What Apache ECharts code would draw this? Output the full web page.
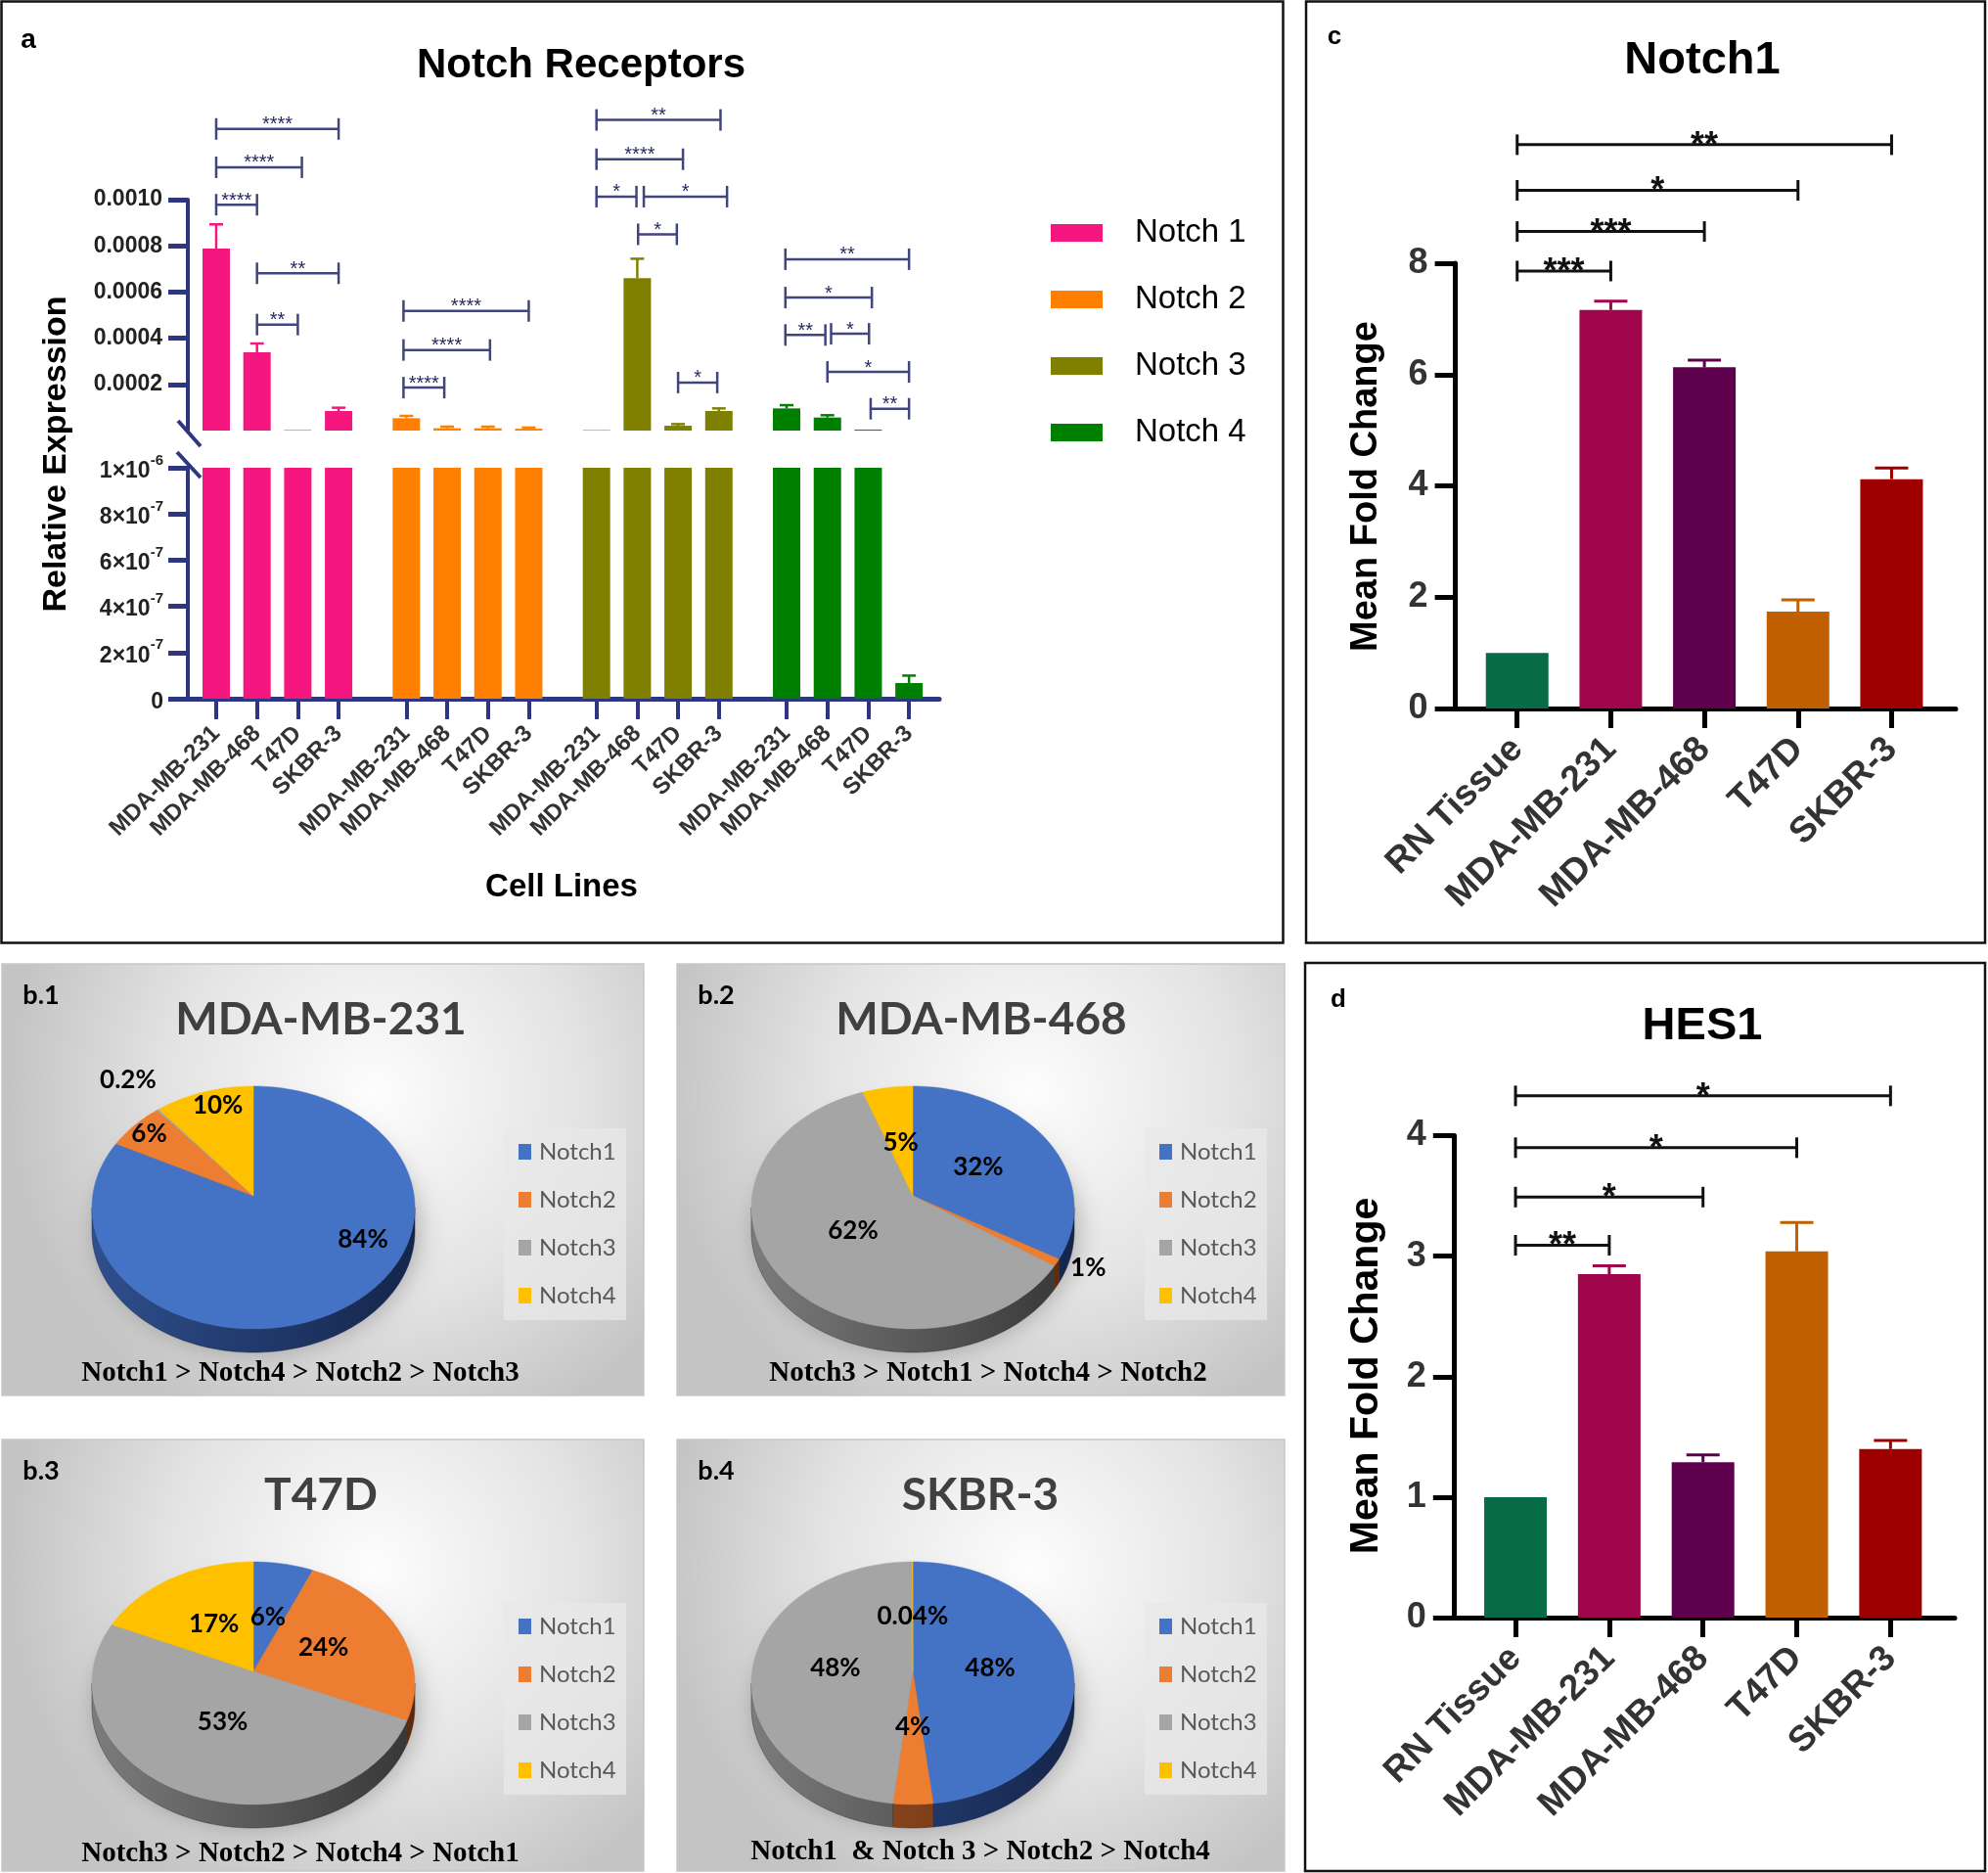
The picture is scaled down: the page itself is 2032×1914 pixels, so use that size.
<!DOCTYPE html>
<html>
<head>
<meta charset="utf-8">
<title>Notch receptors</title>
<script src="https://cdn.jsdelivr.net/npm/echarts@6.0.0/dist/echarts.min.js"></script>
<style>
html,body{margin:0;padding:0;background:#ffffff;}
#chart{width:2032px;height:1914px;}
</style>
</head>
<body>
<div id="chart"></div>
<script>
// ================= DATA =================
const cellLines = ['MDA-MB-231', 'MDA-MB-468', 'T47D', 'SKBR-3'];
const receptors = ['Notch 1', 'Notch 2', 'Notch 3', 'Notch 4'];

// panel a: relative expression (mean) per receptor across cell lines
const notch1Expr = [0.000788, 0.000339, 0.000002, 0.0000847];
const notch2Expr = [0.0000537, 0.0000100, 0.0000100, 0.0000080];
const notch3Expr = [0.000002, 0.000660, 0.0000210, 0.0000847];
const notch4Expr = [0.0000960, 0.0000565, 0.0000040, 0.000000068];
// panel a: SEM
const notch1Sem = [0.000105, 0.000038, 0, 0.0000142];
const notch2Sem = [0.0000099, 0.000007, 0.000007, 0.000005];
const notch3Sem = [0, 0.000084, 0.000007, 0.0000113];
const notch4Sem = [0.000014, 0.0000099, 0, 0.000000032];
// panel a: tick values
const upperTicks = [0.0002, 0.0004, 0.0006, 0.0008, 0.0010];
const lowerTicks = [0, 2e-7, 4e-7, 6e-7, 8e-7, 1e-6];
// panel a: significance brackets [receptor group, from bar, to bar, height, stars]
const notchBrackets = [
  [0, 0, 3, 0.001306, '****'],
  [0, 0, 2.1, 0.00114, '****'],
  [0, 0, 1, 0.000978, '****'],
  [0, 1, 3, 0.000681, '**'],
  [0, 1, 2, 0.000459, '**'],
  [1, -0.07, 3, 0.000518, '****'],
  [1, -0.07, 2.05, 0.000349, '****'],
  [1, -0.07, 0.93, 0.000186, '****'],
  [2, 0, 3.04, 0.001345, '**'],
  [2, 0, 2.12, 0.001175, '****'],
  [2, 0, 0.98, 0.001013, '*'],
  [2, 1.16, 3.2, 0.001013, '*'],
  [2, 1.02, 1.97, 0.00085, '*'],
  [2, 2, 2.96, 0.000208, '*'],
  [3, -0.03, 3, 0.000742, '**'],
  [3, -0.03, 2.09, 0.000576, '*'],
  [3, -0.03, 0.95, 0.000414, '**'],
  [3, 1.09, 2.02, 0.000419, '*'],
  [3, 1, 3, 0.000254, '*'],
  [3, 2.06, 3, 0.0000945, '**']
];

// panels c and d
const foldCats = ['RN Tissue', 'MDA-MB-231', 'MDA-MB-468', 'T47D', 'SKBR-3'];
const notch1Fold = [1.00, 7.16, 6.13, 1.74, 4.12];
const notch1FoldSem = [0, 0.16, 0.13, 0.21, 0.20];
const hes1Fold = [1.00, 2.85, 1.29, 3.04, 1.40];
const hes1FoldSem = [0, 0.07, 0.06, 0.24, 0.07];
const notch1Ticks = [0, 2, 4, 6, 8];
const hes1Ticks = [0, 1, 2, 3, 4];
const notch1Brackets = [[0, 1, 7.86, '***'], [0, 2, 8.57, '***'], [0, 3, 9.31, '*'], [0, 4, 10.13, '**']];
const hes1Brackets = [[0, 1, 3.09, '**'], [0, 2, 3.49, '*'], [0, 3, 3.90, '*'], [0, 4, 4.33, '*']];

// panel b: percentage share of receptors per cell line
const pieNames = ['Notch1', 'Notch2', 'Notch3', 'Notch4'];
const pieTitles = ['MDA-MB-231', 'MDA-MB-468', 'T47D', 'SKBR-3'];
const pieTags = ['b.1', 'b.2', 'b.3', 'b.4'];
const pie231 = [84, 6, 0.2, 10];
const pie468 = [32, 1, 62, 5];
const pieT47D = [6, 24, 53, 17];
const pieSKBR3 = [48, 4, 48, 0.04];
const pieRanks = ['Notch1 > Notch4 > Notch2 > Notch3', 'Notch3 > Notch1 > Notch4 > Notch2',
                  'Notch3 > Notch2 > Notch4 > Notch1', 'Notch1  & Notch 3 > Notch2 > Notch4'];

// ================= STYLE / LAYOUT =================
const FONT = "'Liberation Sans', Arial, Helvetica, sans-serif";
const SERIF = "'Liberation Serif', 'Times New Roman', serif";
const XL = "Lato, 'Open Sans', sans-serif";
const NAVY = '#2f3681';
const BR_NAVY = '#41457e';
const notchColors = ['#f5177f', '#ff8000', '#808000', '#008000'];
const foldColors = ['#076b45', '#a0064c', '#5e004c', '#c06000', '#9e0000'];
const pieColors = ['#4472c4', '#ed7d31', '#a5a5a5', '#ffc000'];
const pieSides = [['#2f4f8e', '#15254a'], ['#a95826', '#5a2a0e'], ['#7c7c7c', '#363636'], ['#b08400', '#6b5000']];

const GROUP_STRIDE = 4.66;
const pos = (g, i) => Math.round((g * GROUP_STRIDE + i) * 100) / 100;
const exprSets = [notch1Expr, notch2Expr, notch3Expr, notch4Expr];
const semSets = [notch1Sem, notch2Sem, notch3Sem, notch4Sem];
const tickPositions = [];
const posLabel = {};
receptors.forEach((r, g) => cellLines.forEach((c, i) => {
  const p = pos(g, i); tickPositions.push(p); posLabel[p.toFixed(2)] = c;
}));
const foldPos = foldCats.map((c, i) => i);

// ================= HELPERS =================
function errorSeries(xi, yi, items, capW, lw) {
  return {
    type: 'custom', xAxisIndex: xi, yAxisIndex: yi, clip: true, silent: true, z: 3,
    data: items,
    renderItem(params, api) {
      const x = api.value(0), m = api.value(1), h = api.value(2);
      if (!(h > m)) return null;
      const p = api.coord([x, m]), q = api.coord([x, h]);
      if (Math.abs(p[1] - q[1]) < 0.8) return null;
      const c = api.visual('color');
      return { type: 'group', children: [
        { type: 'line', shape: { x1: p[0], y1: p[1], x2: q[0], y2: q[1] }, style: { stroke: c, lineWidth: lw } },
        { type: 'line', shape: { x1: q[0] - capW / 2, y1: q[1], x2: q[0] + capW / 2, y2: q[1] }, style: { stroke: c, lineWidth: lw } }
      ] };
    }
  };
}

function bracketSeries(xi, yi, list, toX, opt) {
  return {
    type: 'custom', xAxisIndex: xi, yAxisIndex: yi, clip: false, silent: true, z: 4,
    data: list.map(b => [toX(b, 0), toX(b, 1), b[b.length - 2]]),
    renderItem(params, api) {
      const b = list[params.dataIndex];
      const p = api.coord([api.value(0), api.value(2)]);
      const q = api.coord([api.value(1), api.value(2)]);
      const t = opt.tick, st = { stroke: opt.color, lineWidth: opt.lw };
      return { type: 'group', children: [
        { type: 'line', shape: { x1: p[0], y1: p[1], x2: q[0], y2: q[1] }, style: st },
        { type: 'line', shape: { x1: p[0], y1: p[1] - t, x2: p[0], y2: p[1] + t }, style: st },
        { type: 'line', shape: { x1: q[0], y1: q[1] - t, x2: q[0], y2: q[1] + t }, style: st },
        { type: 'text', x: (p[0] + q[0]) / 2, y: p[1] + opt.labelDy,
          style: { text: b[b.length - 1], fill: opt.textColor, fontSize: opt.fontSize, fontWeight: opt.fontWeight,
                   fontFamily: FONT, align: 'center', verticalAlign: 'middle' } }
      ] };
    }
  };
}

function pieSeries(values, L, hints) {
  const total = values.reduce((s, v) => s + v, 0);
  const starts = [];
  let acc = 0;
  values.forEach(v => { starts.push(acc / total * 360); acc += v; });
  const P = (deg, dy) => {
    const t = deg * Math.PI / 180;
    return [L.cx + L.rx * Math.sin(t), L.cy + dy - L.ry * Math.cos(t)];
  };
  const arc = (a, b, dy) => {
    const pts = [];
    const n = Math.max(2, Math.ceil((b - a) / 1.5));
    for (let k = 0; k <= n; k++) pts.push(P(a + (b - a) * k / n, dy));
    return pts;
  };
  return {
    type: 'custom', coordinateSystem: 'none', silent: true, z: 5,
    data: values.map((v, i) => ({ name: pieNames[i], value: v })),
    renderItem(params, api) {
      const i = params.dataIndex;
      const v = api.value(0);
      const a0 = starts[i], a1 = a0 + v / total * 360;
      const children = [];
      if (i === 0) {
        children.push({ type: 'polygon', shape: { points: arc(0, 360, L.depth * 0.6) },
          style: { fill: 'rgba(90,90,90,0.6)', shadowBlur: 26, shadowColor: 'rgba(0,0,0,0.45)', shadowOffsetY: 8, shadowOffsetX: 4 }, z2: 0 });
      }
      const s = Math.max(a0, 90), e = Math.min(a1, 270);
      if (e > s) {
        const top = arc(s, e, 0), bot = arc(s, e, L.depth).reverse();
        children.push({ type: 'polygon', shape: { points: top.concat(bot) },
          style: { fill: new echarts.graphic.LinearGradient(L.cx - L.rx, 0, L.cx + L.rx, 0,
            [{ offset: 0, color: pieSides[i][0] }, { offset: 1, color: pieSides[i][1] }], true),
            stroke: pieSides[i][1], lineWidth: 0.5 }, z2: 1 });
      }
      children.push({ type: 'polygon', shape: { points: [[L.cx, L.apexY]].concat(arc(a0, a1, 0)) },
        style: { fill: pieColors[i], stroke: pieColors[i], lineWidth: 0.5 }, z2: 2 });
      const h = hints && hints[i];
      const mid = h ? h[0] : (a0 + a1) / 2;
      const r = h ? h[1] : 0.48;
      const t = mid * Math.PI / 180;
      children.push({ type: 'text', x: L.cx + L.rx * r * Math.sin(t), y: L.apexY - L.lry * r * Math.cos(t),
        style: { text: v + '%', fill: '#000', fontSize: 26, fontWeight: 'bold', fontFamily: XL,
                 align: 'center', verticalAlign: 'middle' }, z2: 3 });
      return { type: 'group', children };
    }
  };
}

// ================= SERIES =================
const series = [];
receptors.forEach((r, g) => {
  [0, 1].forEach(k => {
    series.push({
      type: 'bar', name: r, xAxisIndex: k, yAxisIndex: k, barWidth: 28, barGap: '-100%', silent: true,
      itemStyle: { color: notchColors[g] }, clip: true,
      data: exprSets[g].map((v, i) => [pos(g, i), v])
    });
  });
});
const errItemsA = [];
receptors.forEach((r, g) => exprSets[g].forEach((v, i) => {
  errItemsA.push({ value: [pos(g, i), v, v + semSets[g][i]], itemStyle: { color: notchColors[g] } });
}));
series.push(errorSeries(0, 0, errItemsA, 14, 2.5));
series.push(errorSeries(1, 1, errItemsA, 14, 2.5));
series.push(bracketSeries(0, 0, notchBrackets, (b, k) => pos(b[0], 0) + b[1 + k],
  { tick: 11, color: BR_NAVY, lw: 2.5, labelDy: -4, textColor: '#262a5e', fontSize: 20, fontWeight: 'normal' }));

function foldBars(xi, vals, sems, brackets) {
  series.push({
    type: 'bar', xAxisIndex: xi, yAxisIndex: xi, barWidth: 64, silent: true,
    data: vals.map((v, i) => ({ value: [foldPos[i], v], itemStyle: { color: foldColors[i] } }))
  });
  series.push(errorSeries(xi, xi, vals.map((v, i) => ({ value: [foldPos[i], v, v + sems[i]], itemStyle: { color: foldColors[i] } })), 34, 3));
  series.push(bracketSeries(xi, xi, brackets, (b, k) => foldPos[b[k]],
    { tick: 10.5, color: '#111', lw: 3, labelDy: 2, textColor: '#111', fontSize: 36, fontWeight: 'bold' }));
}
foldBars(2, notch1Fold, notch1FoldSem, notch1Brackets);
foldBars(3, hes1Fold, hes1FoldSem, hes1Brackets);

const pieLayouts = [
  { cx: 259, cy: 1234, apexY: 1222, rx: 165, ry: 124, lry: 115, depth: 24 },
  { cx: 933, cy: 1234, apexY: 1222, rx: 165, ry: 124, lry: 115, depth: 24 },
  { cx: 259, cy: 1720, apexY: 1708, rx: 165, ry: 124, lry: 118, depth: 24 },
  { cx: 933, cy: 1720, apexY: 1708, rx: 165, ry: 124, lry: 118, depth: 24 }
];
const pieHints = [
  [[119.5, 0.78], [310.6, 0.85], [323, 1.29], [344.6, 0.83]],
  [null, [120.4, 1.26], null, null],
  null,
  null
];
[pie231, pie468, pieT47D, pieSKBR3].forEach((vals, k) => series.push(pieSeries(vals, pieLayouts[k], pieHints[k])));

// ================= GRAPHICS (frames, titles, pie panels) =================
const graphics = [];
function txt(x, y, text, size, extra) {
  const el = { type: 'text', x, y, z: 50,
    style: Object.assign({ text, fontSize: size, fontWeight: 'bold', fontFamily: FONT, fill: '#000',
      align: 'center', verticalAlign: 'middle' }, (extra && extra.style) || {}) };
  if (extra && extra.rotation) el.rotation = extra.rotation;
  return el;
}
// frames
graphics.push({ type: 'rect', z: -20, shape: { x: 1.5, y: 1.5, width: 1310, height: 962 }, style: { fill: 'none', stroke: '#111', lineWidth: 2.5 } });
graphics.push({ type: 'rect', z: -20, shape: { x: 1335, y: 1.5, width: 694, height: 962 }, style: { fill: 'none', stroke: '#111', lineWidth: 2.5 } });
graphics.push({ type: 'rect', z: -20, shape: { x: 1334, y: 984, width: 695, height: 928 }, style: { fill: 'none', stroke: '#111', lineWidth: 2.5 } });
// panel a texts
graphics.push(txt(29, 41, 'a', 28));
graphics.push(txt(594, 67, 'Notch Receptors', 42));
graphics.push(txt(58, 464, 'Relative Expression', 34, { rotation: Math.PI / 2 }));
graphics.push(txt(574, 907, 'Cell Lines', 33));
// axis break marks
graphics.push({ type: 'line', z: 10, shape: { x1: 182, y1: 430, x2: 205, y2: 456 }, style: { stroke: NAVY, lineWidth: 4 } });
graphics.push({ type: 'line', z: 10, shape: { x1: 181, y1: 462, x2: 205, y2: 488 }, style: { stroke: NAVY, lineWidth: 4 } });
// panel c / d texts
graphics.push(txt(1364, 38, 'c', 26));
graphics.push(txt(1740, 62, 'Notch1', 47));
graphics.push(txt(1397, 497, 'Mean Fold Change', 38, { rotation: Math.PI / 2 }));
graphics.push(txt(1368, 1022, 'd', 26));
graphics.push(txt(1740, 1049, 'HES1', 47));
graphics.push(txt(1397, 1406, 'Mean Fold Change', 41, { rotation: Math.PI / 2 }));

// pie panels
const bPanels = [
  { x: 2, y: 985, w: 656, h: 441, tx: 328, ty: 1042, lx: 515, ly: 1153, fx: 307, fy: 1404 },
  { x: 692, y: 985, w: 621, h: 441, tx: 1003, ty: 1042, lx: 1170, ly: 1153, fx: 1010, fy: 1404 },
  { x: 2, y: 1471, w: 656, h: 441, tx: 328, ty: 1528, lx: 515, ly: 1638, fx: 307, fy: 1895 },
  { x: 692, y: 1471, w: 621, h: 441, tx: 1002, ty: 1528, lx: 1170, ly: 1638, fx: 1002, fy: 1893 }
];
bPanels.forEach((b, k) => {
  graphics.push({ type: 'rect', z: -10, shape: { x: b.x, y: b.y, width: b.w, height: b.h },
    style: { fill: { type: 'radial', x: 0.58, y: 0.3, r: 0.85,
      colorStops: [{ offset: 0, color: '#fdfdfd' }, { offset: 0.55, color: '#e4e4e4' }, { offset: 1, color: '#c4c4c4' }] },
      stroke: '#c8c8c8', lineWidth: 1.5 } });
  graphics.push(txt(b.x + 40, b.y + 32, pieTags[k], 27, { style: { fontFamily: XL, fill: '#000' } }));
  graphics.push(txt(b.tx, b.ty, pieTitles[k], 46, { style: { fontFamily: XL, fill: '#404040' } }));
  graphics.push(txt(b.fx, b.fy, pieRanks[k], 29, { style: { fontFamily: SERIF, fill: '#000' } }));
  graphics.push({ type: 'rect', z: -5, shape: { x: b.lx, y: b.ly, width: 125, height: 196 }, style: { fill: 'rgba(232,232,232,0.75)' } });
  pieNames.forEach((n, i) => {
    const yy = b.ly + 24 + 49 * i;
    graphics.push({ type: 'rect', z: 20, shape: { x: b.lx + 15, y: yy - 8, width: 13, height: 16 }, style: { fill: pieColors[i] } });
    graphics.push(txt(b.lx + 36, yy, n, 24, { style: { fontFamily: XL, fontWeight: 'normal', fill: '#595959', align: 'left' } }));
  });
});

// ================= OPTION =================
const lowerFmt = v => {
  const k = Math.round(v * 1e7);
  if (k === 0) return '{b|0}';
  if (k === 10) return '{b|1×10}{s|-6}';
  return '{b|' + k + '×10}{s|-7}';
};
const foldYAxis = (gi, max, interval) => ({
  gridIndex: gi, type: 'value', min: 0, max, interval, splitLine: { show: false },
  axisLine: { show: true, onZero: false, lineStyle: { color: '#000', width: 5 } },
  axisTick: { show: true, length: 21, lineStyle: { color: '#000', width: 5 } },
  axisLabel: { margin: 28, fontSize: 36, fontWeight: 'bold', fontFamily: FONT, color: '#333' }
});
const foldXAxis = gi => ({
  gridIndex: gi, type: 'value', min: -0.66, max: 4.685, splitLine: { show: false },
  axisLine: { show: true, onZero: false, lineStyle: { color: '#000', width: 5 } },
  axisTick: { show: true, customValues: foldPos, length: 20, lineStyle: { color: '#000', width: 5 } },
  axisLabel: { customValues: foldPos, rotate: 45, margin: 36, fontSize: 37, fontWeight: 'bold', fontFamily: FONT, color: '#333',
    formatter: v => foldCats[Math.round(v)] }
});

const option = {
  animation: false,
  backgroundColor: '#ffffff',
  grid: [
    { left: 192, top: 204, width: 768, height: 236 },
    { left: 192, top: 478, width: 768, height: 236 },
    { left: 1487.6, top: 269, width: 511.4, height: 455 },
    { left: 1485.8, top: 1160.5, width: 512.2, height: 492.5 }
  ],
  xAxis: [
    { gridIndex: 0, type: 'value', min: -0.695, max: 17.72, show: false },
    { gridIndex: 1, type: 'value', min: -0.695, max: 17.72, splitLine: { show: false },
      axisLine: { show: true, onZero: false, lineStyle: { color: NAVY, width: 5 } },
      axisTick: { show: true, customValues: tickPositions, length: 21, lineStyle: { color: NAVY, width: 4 } },
      axisLabel: { customValues: tickPositions, rotate: 45, margin: 32, fontSize: 24, fontWeight: 'bold',
        fontFamily: FONT, color: '#333', formatter: v => posLabel[(+v).toFixed(2)] || '' } },
    foldXAxis(2),
    foldXAxis(3)
  ],
  yAxis: [
    { gridIndex: 0, type: 'value', min: 0, max: 0.001, splitLine: { show: false },
      axisLine: { show: true, onZero: false, lineStyle: { color: NAVY, width: 4 } },
      axisTick: { show: true, customValues: upperTicks, length: 20, lineStyle: { color: NAVY, width: 5 } },
      axisLabel: { customValues: upperTicks, margin: 26, fontSize: 23, fontWeight: 'bold', fontFamily: FONT, color: '#222',
        formatter: v => (+v).toFixed(4) } },
    { gridIndex: 1, type: 'value', min: 0, max: 1e-6, splitLine: { show: false },
      axisLine: { show: true, onZero: false, lineStyle: { color: NAVY, width: 4 } },
      axisTick: { show: true, customValues: lowerTicks, length: 20, lineStyle: { color: NAVY, width: 5 } },
      axisLabel: { customValues: lowerTicks, margin: 25, formatter: lowerFmt,
        rich: {
          b: { fontSize: 23, fontWeight: 'bold', fontFamily: FONT, color: '#222', lineHeight: 30, verticalAlign: 'bottom' },
          s: { fontSize: 15, fontWeight: 'bold', fontFamily: FONT, color: '#222', lineHeight: 30, verticalAlign: 'top' }
        } } },
    foldYAxis(2, 8, 2),
    foldYAxis(3, 4, 1)
  ],
  legend: {
    data: receptors, orient: 'vertical', left: 1074, top: 220, padding: 0, itemWidth: 53, itemHeight: 18, itemGap: 32,
    icon: 'rect', selectedMode: false,
    textStyle: { fontSize: 33, fontFamily: FONT, color: '#000', lineHeight: 36, padding: [0, 0, 0, 28] }
  },
  graphic: { elements: graphics },
  series
};

const chart = echarts.init(document.getElementById('chart'), null, { renderer: 'canvas', width: 2032, height: 1914 });
chart.setOption(option);
</script>
</body>
</html>
